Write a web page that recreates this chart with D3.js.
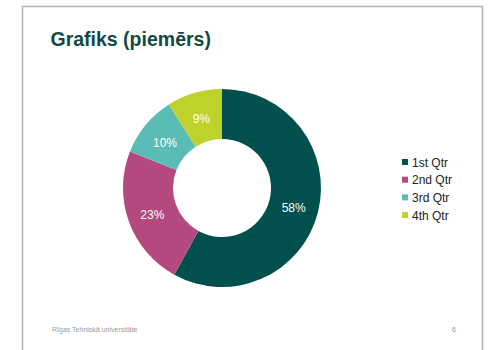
<!DOCTYPE html>
<html>
<head>
<meta charset="utf-8">
<script src="https://cdn.jsdelivr.net/npm/d3@7"></script>
<style>
  body { margin: 0; background: #fff; }
  svg { display: block; font-family: "Liberation Sans", Arial, sans-serif; }
</style>
</head>
<body>
<div id="chart"></div>
<script>
const categories = ["1st Qtr", "2nd Qtr", "3rd Qtr", "4th Qtr"]
const values = [58, 23, 10, 9]
const colors = ["#02504e", "#b3497f", "#5bbcb6", "#bfd12b"]

const width = 488, height = 350
const cx = 222, cy = 188, outerR = 99, innerR = 49

const svg = d3.select("#chart").append("svg")
  .attr("width", width)
  .attr("height", height)

// slide frame (no bottom edge)
svg.append("path")
  .attr("d", "M22.5,350 V6.5 H482.5 V350")
  .attr("fill", "none")
  .attr("stroke", "#b4b4b4")
  .attr("stroke-width", 1.5)

svg.append("text")
  .attr("x", 50.5)
  .attr("y", 45.5)
  .attr("font-size", 19.5)
  .attr("font-weight", "bold")
  .attr("fill", "#0f4a44")
  .text("Grafiks (piemērs)")

const pie = d3.pie().sort(null).value(d => d)
const arc = d3.arc().innerRadius(innerR).outerRadius(outerR)
const labelArc = d3.arc().innerRadius((innerR + outerR) / 2).outerRadius((innerR + outerR) / 2)

const g = svg.append("g").attr("transform", `translate(${cx},${cy})`)
const arcs = pie(values)

g.selectAll("path.slice")
  .data(arcs)
  .join("path")
  .attr("class", "slice")
  .attr("d", arc)
  .attr("fill", (d, i) => colors[i])

g.selectAll("text.pct")
  .data(arcs)
  .join("text")
  .attr("class", "pct")
  .attr("transform", d => `translate(${labelArc.centroid(d)})`)
  .attr("text-anchor", "middle")
  .attr("dy", "0.5em")
  .attr("font-size", 12)
  .attr("fill", "#fff")
  .text(d => d.data + "%")

const legend = svg.append("g").attr("transform", "translate(402,162)")
const row = legend.selectAll("g")
  .data(categories)
  .join("g")
  .attr("transform", (d, i) => `translate(0,${i * 17.7})`)
row.append("rect")
  .attr("x", 0).attr("y", -3)
  .attr("width", 6).attr("height", 6)
  .attr("fill", (d, i) => colors[i])
row.append("text")
  .attr("x", 10)
  .attr("y", 0)
  .attr("dy", "0.38em")
  .attr("font-size", 12)
  .attr("fill", "#222")
  .text(d => d)

svg.append("text")
  .attr("x", 52)
  .attr("y", 332)
  .attr("font-size", 7)
  .attr("fill", "#9a9a9a")
  .text("Rīgas Tehniskā universitāte")

svg.append("text")
  .attr("x", 452)
  .attr("y", 332)
  .attr("font-size", 7)
  .attr("fill", "#9a9a9a")
  .text("6")
</script>
</body>
</html>
